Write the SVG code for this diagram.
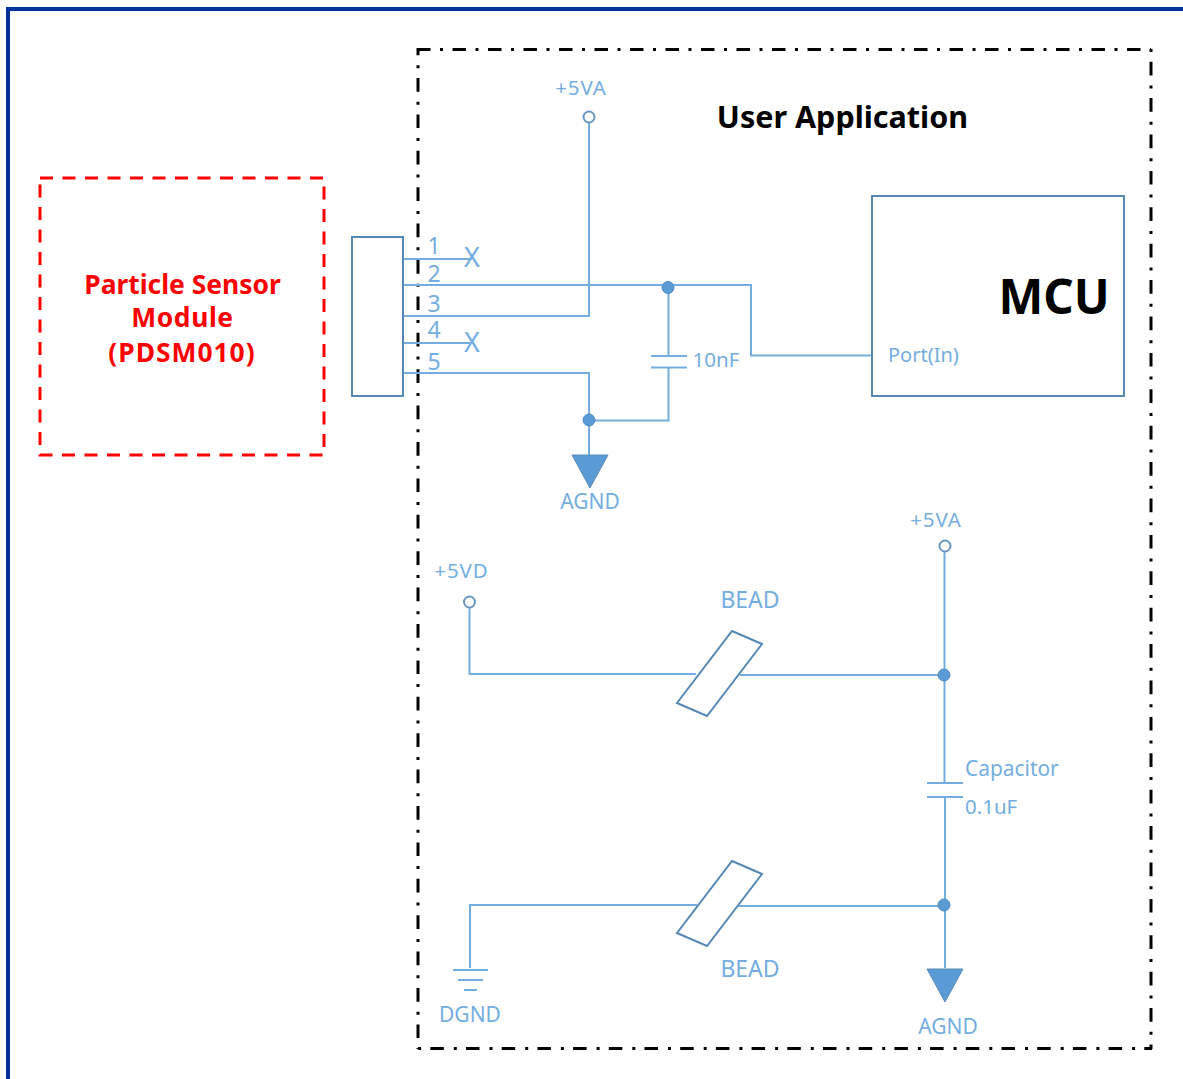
<svg xmlns="http://www.w3.org/2000/svg" width="1183" height="1079" viewBox="0 0 1183 1079">
<defs><style>
.w{fill:none;stroke:#74aee0;stroke-width:2}
.b{fill:#fff;stroke:#5588b5;stroke-width:2}
.d{fill:#5b9bd5;stroke:#4f8cc2;stroke-width:1}
.g{fill:#5b9bd5;stroke:#5b8db8;stroke-width:1}
.o{fill:#fff;stroke:#6a98c0;stroke-width:2}
.u{fill:none;stroke:#000;stroke-width:3}
text{font-family:"Noto Sans","Open Sans","Liberation Sans",sans-serif}
.t{fill:#74aee0;font-size:20px;text-anchor:middle}
.p{fill:#74aee0;font-size:20.500px;letter-spacing:.9px;text-anchor:middle}
.n{fill:#74aee0;font-size:23px;text-anchor:middle}
.x{fill:#74aee0;font-size:27px;text-anchor:middle}
.s{fill:#74aee0;font-size:20px}
.r{fill:#f00;font-size:26.400px;font-weight:700;text-anchor:middle}
</style></defs>
<rect width="1183" height="1079" fill="#fff"/>
<path id="frame" d="M1183 9H8V1079" fill="none" stroke="#003399" stroke-width="4"/>
<g id="user-application">
<path class="u" d="M417 49.500H1151" stroke-dasharray="13.500 9.500 3 9.500"/>
<path class="u" d="M418 48V1049" stroke-dasharray="13.700 10 3 9.700" stroke-dashoffset="6.400"/>
<path class="u" d="M1151 49V1049" stroke-dasharray="13.700 10 3 9.700" stroke-dashoffset="23.700"/>
<path class="u" d="M418 1048.500H1152" stroke-dasharray="13.500 10 3 9.200" stroke-dashoffset="23.400"/>
</g>
<g id="connectors">
<path class="w" d="M402 259H472M402 285H751V355.500H872M402 316H589V122M402 343H472M402 373H589V455"/>
<path class="w" d="M668.500 287V356M651 356H687M651 367.500H687M668.500 367.500V420.500H589"/>
<path class="w" d="M469.500 608V674H696M740 675H944M944.500 551V783M927 783H963M927 797H963M945 797V968"/>
<path class="w" d="M470 968V905H697M738 906H944M453 970H488M458 980H483M464 990H477"/>
</g>
<g id="sensor-module">
<rect x="40" y="178" width="284" height="277" fill="#fff" stroke="#f00" stroke-width="3" stroke-dasharray="13 9.500"/>
<text class="r" x="182.500" y="294">Particle Sensor</text>
<text class="r" x="182.500" y="327" style="letter-spacing:.6px">Module</text>
<text class="r" x="182" y="362" style="letter-spacing:1px">(PDSM010)</text>
</g>
<g id="connector-block">
<rect class="b" x="352" y="237" width="51" height="159"/>
<text class="n" x="434" y="254">1</text>
<text class="n" x="434" y="282">2</text>
<text class="n" x="434" y="312">3</text>
<text class="n" x="434" y="338">4</text>
<text class="n" x="434" y="370">5</text>
</g>
<g id="nc-1"><text class="x" x="472" y="267">X</text></g>
<g id="nc-4"><text class="x" x="472" y="352">X</text></g>
<g id="vcc-top"><circle class="o" cx="589" cy="117" r="5.500"/><text class="p" x="581" y="94.500">+5VA</text></g>
<g id="title"><text x="842.500" y="128" style="font-size:30.500px;font-weight:700;text-anchor:middle" fill="#000">User Application</text></g>
<g id="mcu">
<rect class="b" x="872" y="196" width="252" height="200"/>
<text x="1054" y="314" style="font-size:47.500px;font-weight:700;text-anchor:middle" fill="#000">MCU</text>
<text class="s" x="888" y="362">Port(In)</text>
</g>
<g id="cap-10nf"><circle class="d" cx="668" cy="287.500" r="6"/><text class="t" x="716" y="367" style="font-size:20.500px">10nF</text></g>
<g id="agnd-top"><circle class="d" cx="589" cy="420" r="6"/><path class="g" d="M572 455H608L590 488Z"/><text class="t" x="590" y="509" style="font-size:21px">AGND</text></g>
<g id="vcc-d"><circle class="o" cx="469.500" cy="602" r="5.500"/><text class="p" x="461.500" y="577.500">+5VD</text></g>
<g id="vcc-a"><circle class="o" cx="945" cy="546" r="5.500"/><text class="p" x="936" y="526.500">+5VA</text></g>
<g id="bead-top"><path class="b" d="M732 631L762 644L707 716L677 703Z"/><text class="t" x="750" y="608" style="font-size:23px">BEAD</text></g>
<g id="bead-bottom"><path class="b" d="M732 861L762 874L707 946L677 933Z"/><text class="t" x="750" y="977" style="font-size:23px">BEAD</text></g>
<g id="node-top"><circle class="d" cx="944" cy="675" r="6"/></g>
<g id="cap-01"><text class="s" x="965" y="775.500" style="font-size:20.900px">Capacitor</text><text class="s" x="965" y="814" style="font-size:20.500px">0.1uF</text></g>
<g id="agnd-bottom"><circle class="d" cx="944" cy="905" r="6"/><path class="g" d="M927 969H963L945 1002Z"/><text class="t" x="948" y="1034" style="font-size:21px">AGND</text></g>
<g id="dgnd"><text class="t" x="470" y="1022" style="font-size:21px">DGND</text></g>
</svg>
